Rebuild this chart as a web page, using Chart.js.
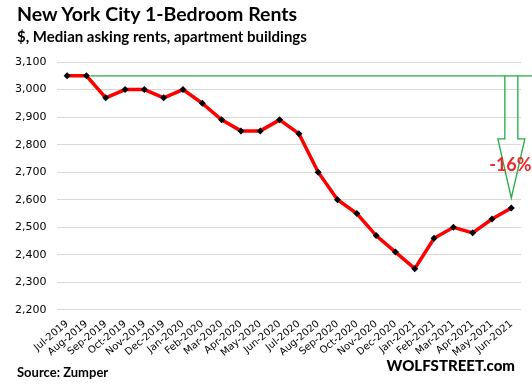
<!DOCTYPE html>
<html>
<head>
<meta charset="utf-8">
<script src="https://cdn.jsdelivr.net/npm/chart.js@4.4.1/dist/chart.umd.min.js"></script>
<style>
  html, body { margin: 0; padding: 0; background: #fff; }
  #wrap { position: relative; width: 532px; height: 390px; }
  #rentChart { position: absolute; left: 0; top: 0; }
  .txt { position: absolute; font-family: Lato, 'Open Sans', sans-serif; font-weight: bold; color: #000; white-space: nowrap; }
  #title { left: 17px; top: 2px; font-size: 19.5px; }
  #subtitle { left: 17px; top: 27px; font-size: 15px; }
  #source { left: 17px; top: 364px; font-size: 13px; }
  #brand { right: 17px; top: 356px; font-size: 15px; font-weight: 900; }
</style>
</head>
<body>
<div id="wrap">
  <canvas id="rentChart" width="532" height="390"></canvas>
  <div class="txt" id="title">New York City 1-Bedroom Rents</div>
  <div class="txt" id="subtitle">$, Median asking rents, apartment buildings</div>
  <div class="txt" id="source">Source: Zumper</div>
  <div class="txt" id="brand">WOLFSTREET.com</div>
</div>
<script>
// Monthly median asking rent, 1-bedroom, NYC
const months = ['Jul-2019', 'Aug-2019', 'Sep-2019', 'Oct-2019', 'Nov-2019', 'Dec-2019',
  'Jan-2020', 'Feb-2020', 'Mar-2020', 'Apr-2020', 'May-2020', 'Jun-2020',
  'Jul-2020', 'Aug-2020', 'Sep-2020', 'Oct-2020', 'Nov-2020', 'Dec-2020',
  'Jan-2021', 'Feb-2021', 'Mar-2021', 'Apr-2021', 'May-2021', 'Jun-2021'];
const rents = [3050, 3050, 2970, 3000, 3000, 2970,
  3000, 2950, 2890, 2850, 2850, 2890,
  2840, 2700, 2600, 2550, 2470, 2410,
  2350, 2460, 2500, 2480, 2530, 2570];
const yTicks = [2200, 2300, 2400, 2500, 2600, 2700, 2800, 2900, 3000, 3100];
const peakValue = 3050;
const changeLabel = '-16%';

// green reference line at the peak + hollow arrow down to the latest value
const peakArrow = {
  id: 'peakArrow',
  afterDatasetsDraw(chart) {
    const ctx = chart.ctx;
    const x = chart.scales.x;
    const y = chart.scales.y;
    const yPeak = y.getPixelForValue(peakValue);
    const last = rents.length - 1;
    const xl = x.getPixelForValue(last);
    const yl = y.getPixelForValue(rents[last]);

    ctx.save();
    ctx.strokeStyle = '#22ac44';
    ctx.lineWidth = 1.3;
    ctx.beginPath();
    ctx.moveTo(x.getPixelForValue(1) + 4, yPeak);
    ctx.lineTo(chart.width, yPeak);
    ctx.stroke();

    const shaftW = 6.5, headW = 13.5;
    const headY = yPeak + 63;
    const tipY = yl - 10;
    ctx.beginPath();
    ctx.moveTo(xl - shaftW, yPeak);
    ctx.lineTo(xl - shaftW, headY);
    ctx.lineTo(xl - headW, headY);
    ctx.lineTo(xl, tipY);
    ctx.lineTo(xl + headW, headY);
    ctx.lineTo(xl + shaftW, headY);
    ctx.lineTo(xl + shaftW, yPeak);
    ctx.stroke();

    ctx.fillStyle = '#f0282d';
    ctx.font = 'bold 18px Lato, sans-serif';
    ctx.textAlign = 'center';
    ctx.textBaseline = 'middle';
    ctx.fillText(changeLabel, xl - 1, headY + 26);
    ctx.restore();
  }
};

new Chart(document.getElementById('rentChart'), {
  type: 'line',
  data: {
    labels: months,
    datasets: [{
      data: rents,
      borderColor: '#ff0000',
      borderWidth: 3.5,
      tension: 0,
      pointStyle: 'rectRot',
      pointRadius: 3.5,
      pointBackgroundColor: '#000',
      pointBorderColor: '#000',
      pointBorderWidth: 0
    }]
  },
  options: {
    responsive: false,
    animation: false,
    layout: { padding: { top: 62, left: 4, right: 11, bottom: 31 } },
    plugins: {
      legend: { display: false },
      tooltip: { enabled: false }
    },
    scales: {
      x: {
        offset: true,
        grid: { display: false },
        border: { display: false },
        ticks: {
          autoSkip: false,
          maxRotation: 40,
          minRotation: 40,
          padding: 0,
          color: '#000',
          font: { family: 'DejaVu Sans', size: 10 }
        }
      },
      y: {
        min: 2200,
        max: 3100,
        afterBuildTicks: axis => { axis.ticks = yTicks.map(v => ({ value: v })); },
        grid: { color: '#d9d9d9', lineWidth: 1, drawTicks: false },
        border: { display: false },
        ticks: {
          padding: 11,
          color: '#000',
          font: { family: 'DejaVu Sans', size: 11 },
          callback: v => v.toLocaleString('en-US')
        }
      }
    }
  },
  plugins: [peakArrow]
});
</script>
</body>
</html>
